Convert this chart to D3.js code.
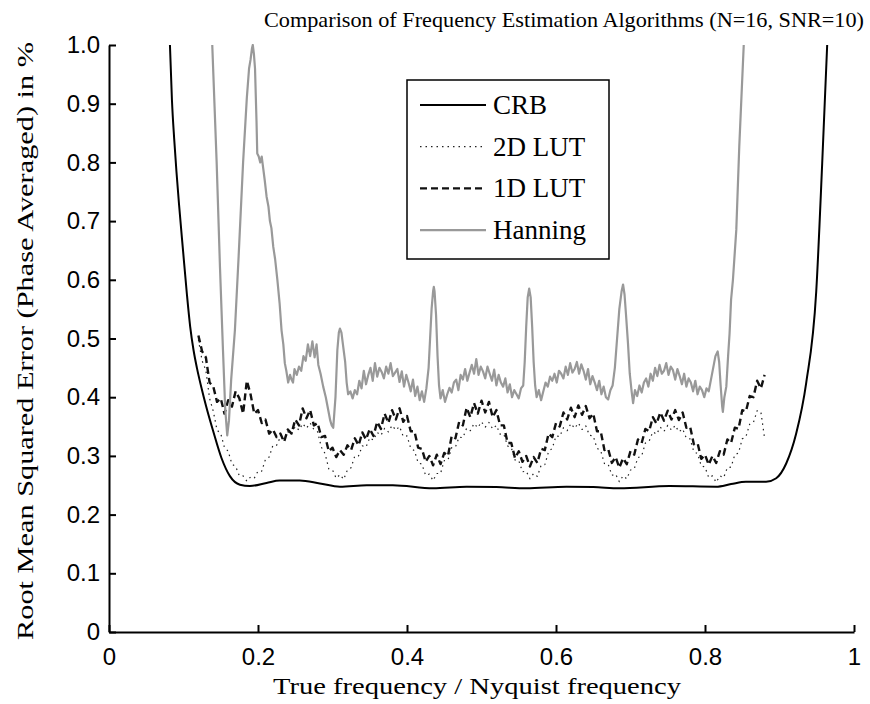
<!DOCTYPE html>
<html>
<head>
<meta charset="utf-8">
<script src="https://cdn.jsdelivr.net/npm/d3@7"></script>
<style>
  body { margin: 0; background: #fff; }
  svg { display: block; }
  .serif { font-family: "Liberation Serif", "Times New Roman", serif; fill: #000; }
</style>
</head>
<body>
<div class="canvas"></div>
<script>
const xTickValues = [0, 0.2, 0.4, 0.6, 0.8, 1];
const xTickLabels = ["0", "0.2", "0.4", "0.6", "0.8", "1"];
const yTickValues = [0, 0.1, 0.2, 0.3, 0.4, 0.5, 0.6, 0.7, 0.8, 0.9, 1];
const yTickLabels = ["0", "0.1", "0.2", "0.3", "0.4", "0.5", "0.6", "0.7", "0.8", "0.9", "1.0"];

const seriesNames = ["CRB", "2D LUT", "1D LUT", "Hanning"];

// Cramer-Rao bound
const crbFreq = [0.0818, 0.0845, 0.0875, 0.0905, 0.0939, 0.0995, 0.1046, 0.109, 0.1135, 0.118,
  0.1245, 0.1301, 0.1399, 0.1511, 0.1623, 0.1757, 0.189, 0.2115, 0.229, 0.256, 0.283, 0.31,
  0.346, 0.381, 0.435, 0.48, 0.52, 0.56, 0.614, 0.65, 0.685, 0.7525, 0.815, 0.835, 0.855,
  0.882, 0.8956, 0.909, 0.9224, 0.9358, 0.9493, 0.9573, 0.964];
const crbVal = [1.0, 0.906, 0.84, 0.785, 0.73, 0.648, 0.575, 0.52, 0.48, 0.45,
  0.414, 0.386, 0.342, 0.296, 0.2655, 0.251, 0.2487, 0.254, 0.258, 0.258, 0.253, 0.2475,
  0.25, 0.25, 0.2448, 0.2475, 0.247, 0.2448, 0.2475, 0.247, 0.2448, 0.2487, 0.2475, 0.252, 0.256,
  0.256, 0.262, 0.287, 0.338, 0.424, 0.58, 0.798, 1.0];

// LUT estimators, sampled every 0.005 from 0.12 to 0.88
const lutStart = 0.12;
const lutStep = 0.005;
const lut2d = [0.498, 0.462, 0.446, 0.398, 0.376, 0.344, 0.338, 0.314, 0.308, 0.286,
  0.282, 0.266, 0.266, 0.257, 0.264, 0.262, 0.274, 0.274, 0.294, 0.298,
  0.318, 0.318, 0.332, 0.328, 0.341, 0.337, 0.35, 0.344, 0.355, 0.347,
  0.356, 0.345, 0.341, 0.315, 0.304, 0.278, 0.276, 0.262, 0.268, 0.26,
  0.276, 0.28, 0.3, 0.3, 0.317, 0.315, 0.331, 0.327, 0.34, 0.335,
  0.347, 0.341, 0.352, 0.344, 0.35, 0.333, 0.334, 0.313, 0.309, 0.288,
  0.286, 0.267, 0.269, 0.258, 0.27, 0.27, 0.292, 0.293, 0.314, 0.315,
  0.332, 0.331, 0.347, 0.343, 0.355, 0.348, 0.358, 0.349, 0.357, 0.346,
  0.352, 0.337, 0.337, 0.317, 0.314, 0.293, 0.292, 0.273, 0.274, 0.261,
  0.27, 0.265, 0.284, 0.285, 0.307, 0.313, 0.334, 0.333, 0.348, 0.343,
  0.355, 0.347, 0.356, 0.345, 0.351, 0.335, 0.334, 0.313, 0.309, 0.287,
  0.286, 0.267, 0.269, 0.256, 0.266, 0.261, 0.276, 0.278, 0.297, 0.3,
  0.322, 0.325, 0.341, 0.337, 0.349, 0.342, 0.352, 0.344, 0.352, 0.341,
  0.346, 0.33, 0.329, 0.307, 0.304, 0.283, 0.281, 0.263, 0.266, 0.255,
  0.266, 0.263, 0.28, 0.281, 0.302, 0.305, 0.329, 0.333, 0.354, 0.357,
  0.377, 0.375, 0.33];
const lut1d = [0.505, 0.478, 0.468, 0.425, 0.418, 0.392, 0.398, 0.372, 0.395, 0.384,
  0.41, 0.398, 0.372, 0.428, 0.405, 0.372, 0.378, 0.356, 0.362, 0.338,
  0.345, 0.332, 0.338, 0.324, 0.345, 0.338, 0.362, 0.352, 0.381, 0.364,
  0.378, 0.352, 0.356, 0.332, 0.334, 0.308, 0.314, 0.298, 0.31, 0.302,
  0.318, 0.31, 0.33, 0.318, 0.34, 0.328, 0.346, 0.334, 0.358, 0.346,
  0.372, 0.356, 0.378, 0.362, 0.381, 0.358, 0.368, 0.342, 0.342, 0.314,
  0.312, 0.29, 0.3, 0.284, 0.302, 0.286, 0.305, 0.3, 0.334, 0.33,
  0.358, 0.352, 0.382, 0.366, 0.39, 0.372, 0.394, 0.374, 0.392, 0.366,
  0.378, 0.352, 0.352, 0.322, 0.322, 0.296, 0.308, 0.29, 0.3, 0.282,
  0.298, 0.288, 0.312, 0.31, 0.338, 0.332, 0.356, 0.35, 0.374, 0.362,
  0.382, 0.366, 0.386, 0.37, 0.385, 0.364, 0.372, 0.342, 0.342, 0.31,
  0.312, 0.288, 0.298, 0.28, 0.296, 0.286, 0.308, 0.302, 0.328, 0.322,
  0.346, 0.342, 0.366, 0.355, 0.374, 0.36, 0.377, 0.362, 0.378, 0.361,
  0.374, 0.348, 0.35, 0.32, 0.322, 0.295, 0.302, 0.285, 0.3, 0.288,
  0.308, 0.302, 0.328, 0.322, 0.348, 0.346, 0.378, 0.376, 0.402, 0.4,
  0.428, 0.415, 0.438];

// Hanning window estimator
const hanFreq = [0.1386, 0.1445, 0.149, 0.153, 0.156, 0.1587, 0.161, 0.164, 0.169, 0.174,
  0.18, 0.185, 0.188, 0.19, 0.192, 0.193, 0.1945, 0.196, 0.198, 0.199,
  0.201, 0.203, 0.205, 0.207, 0.209, 0.2115, 0.214, 0.216, 0.218, 0.2205,
  0.223, 0.226, 0.229, 0.2316, 0.234, 0.236, 0.238, 0.2405, 0.243, 0.245,
  0.247, 0.249, 0.252, 0.255, 0.258, 0.261, 0.264, 0.267, 0.27, 0.273,
  0.276, 0.2786, 0.281, 0.284, 0.2875, 0.291, 0.294, 0.297, 0.299, 0.301,
  0.304, 0.3065, 0.3085, 0.31, 0.312, 0.3145, 0.317, 0.319, 0.321, 0.324,
  0.327, 0.33, 0.333, 0.336, 0.339, 0.342, 0.345, 0.348, 0.351, 0.354,
  0.357, 0.36, 0.363, 0.366, 0.369, 0.372, 0.375, 0.378, 0.381, 0.384,
  0.387, 0.39, 0.393, 0.396, 0.399, 0.402, 0.405, 0.408, 0.411, 0.414,
  0.417, 0.42, 0.423, 0.426, 0.429, 0.431, 0.433, 0.435, 0.436, 0.437,
  0.439, 0.441, 0.443, 0.445, 0.448, 0.451, 0.454, 0.457, 0.46, 0.463,
  0.466, 0.469, 0.472, 0.475, 0.478, 0.481, 0.484, 0.487, 0.49, 0.493,
  0.496, 0.499, 0.502, 0.505, 0.508, 0.511, 0.514, 0.517, 0.52, 0.523,
  0.526, 0.529, 0.532, 0.535, 0.538, 0.541, 0.544, 0.547, 0.55, 0.553,
  0.556, 0.558, 0.56, 0.562, 0.564, 0.566, 0.568, 0.57, 0.572, 0.574,
  0.577, 0.58, 0.583, 0.586, 0.589, 0.592, 0.595, 0.598, 0.601, 0.604,
  0.607, 0.61, 0.613, 0.616, 0.619, 0.622, 0.625, 0.628, 0.631, 0.634,
  0.637, 0.64, 0.643, 0.646, 0.649, 0.652, 0.655, 0.658, 0.661, 0.664,
  0.667, 0.67, 0.673, 0.676, 0.679, 0.682, 0.685, 0.688, 0.69, 0.692,
  0.694, 0.6966, 0.699, 0.7015, 0.7035, 0.706, 0.709, 0.712, 0.715, 0.718,
  0.721, 0.724, 0.727, 0.73, 0.733, 0.736, 0.739, 0.742, 0.745, 0.748,
  0.751, 0.754, 0.757, 0.76, 0.763, 0.766, 0.769, 0.772, 0.775, 0.778,
  0.781, 0.784, 0.787, 0.79, 0.793, 0.796, 0.799, 0.802, 0.805, 0.808,
  0.811, 0.814, 0.817, 0.819, 0.821, 0.823, 0.824, 0.826, 0.8286, 0.831,
  0.833, 0.835, 0.8375, 0.842, 0.846, 0.852];
const hanVal = [1.0, 0.8, 0.62, 0.48, 0.38, 0.335, 0.36, 0.43, 0.514, 0.64,
  0.8, 0.91, 0.96, 0.975, 0.995, 1.0, 0.985, 0.96, 0.87, 0.815,
  0.81, 0.8, 0.81, 0.79, 0.77, 0.742, 0.725, 0.7, 0.688, 0.656,
  0.635, 0.6, 0.56, 0.514, 0.49, 0.458, 0.445, 0.425, 0.438, 0.43,
  0.425, 0.448, 0.438, 0.452, 0.445, 0.47, 0.462, 0.49, 0.47, 0.495,
  0.468, 0.49, 0.455, 0.44, 0.418, 0.4, 0.38, 0.36, 0.352, 0.348,
  0.4, 0.48, 0.51, 0.517, 0.51, 0.485, 0.46, 0.425, 0.405, 0.41,
  0.398, 0.412, 0.405, 0.428, 0.415, 0.445, 0.422, 0.438, 0.45, 0.428,
  0.458, 0.435, 0.45, 0.443, 0.432, 0.452, 0.44, 0.458, 0.436, 0.442,
  0.448, 0.426, 0.444, 0.418, 0.438, 0.425, 0.41, 0.43, 0.402, 0.418,
  0.395, 0.41, 0.392, 0.415, 0.45, 0.5, 0.55, 0.58, 0.588, 0.58,
  0.54, 0.47, 0.42, 0.398, 0.412, 0.392, 0.405, 0.416, 0.408, 0.425,
  0.43, 0.412, 0.438, 0.43, 0.448, 0.428, 0.442, 0.455, 0.44, 0.465,
  0.438, 0.452, 0.444, 0.432, 0.452, 0.44, 0.428, 0.447, 0.42, 0.438,
  0.425, 0.418, 0.432, 0.408, 0.422, 0.4, 0.412, 0.405, 0.398, 0.415,
  0.42, 0.46, 0.52, 0.57, 0.585, 0.57, 0.52, 0.46, 0.42, 0.4,
  0.412, 0.395, 0.41, 0.425, 0.418, 0.435, 0.428, 0.44, 0.425, 0.445,
  0.44, 0.432, 0.452, 0.438, 0.458, 0.442, 0.448, 0.46, 0.44, 0.456,
  0.445, 0.43, 0.448, 0.422, 0.436, 0.425, 0.412, 0.428, 0.405, 0.418,
  0.4, 0.396, 0.412, 0.42, 0.45, 0.5, 0.55, 0.58, 0.592, 0.575,
  0.54, 0.492, 0.44, 0.41, 0.39, 0.412, 0.402, 0.42, 0.408, 0.425,
  0.432, 0.418, 0.44, 0.428, 0.45, 0.436, 0.455, 0.44, 0.445, 0.458,
  0.438, 0.452, 0.446, 0.43, 0.448, 0.436, 0.422, 0.44, 0.418, 0.432,
  0.425, 0.41, 0.428, 0.405, 0.418, 0.412, 0.4, 0.415, 0.41, 0.43,
  0.45, 0.47, 0.478, 0.46, 0.42, 0.385, 0.375, 0.4, 0.418, 0.47,
  0.509, 0.566, 0.6, 0.685, 0.827, 1.0];

const width = 870;
const height = 704;
const margin = { top: 45, right: 16, bottom: 72, left: 109 };

const x = d3.scaleLinear().domain([0, 1]).range([margin.left, width - margin.right]);
const y = d3.scaleLinear().domain([0, 1]).range([height - margin.bottom, margin.top]);

const svg = d3.select(".canvas").append("svg")
  .attr("width", width)
  .attr("height", height);

svg.append("defs").append("clipPath")
  .attr("id", "plot-clip")
  .append("rect")
  .attr("x", x(0))
  .attr("y", y(1) - 1)
  .attr("width", x(1) - x(0))
  .attr("height", y(0) - y(1) + 1);

const line = d3.line()
  .x((d) => x(d[0]))
  .y((d) => y(d[1]));

const smoothLine = d3.line()
  .curve(d3.curveMonotoneX)
  .x((d) => x(d[0]))
  .y((d) => y(d[1]));

const crbData = crbFreq.map((f, i) => [f, crbVal[i]]);
const lut2dData = lut2d.map((v, i) => [lutStart + i * lutStep, v]);
const lut1dData = lut1d.map((v, i) => [lutStart + i * lutStep, v]);
const hanData = hanFreq.map((f, i) => [f, hanVal[i]]);

const styles = [
  { stroke: "#000", width: 2, dash: null },
  { stroke: "#222", width: 1.2, dash: "1.5,4" },
  { stroke: "#111", width: 2.4, dash: "7,4" },
  { stroke: "#999", width: 2.2, dash: null }
];

const curves = svg.append("g").attr("clip-path", "url(#plot-clip)");

[crbData, lut2dData, lut1dData, hanData].forEach((data, i) => {
  curves.append("path")
    .datum(data)
    .attr("fill", "none")
    .attr("stroke", styles[i].stroke)
    .attr("stroke-width", styles[i].width)
    .attr("stroke-dasharray", styles[i].dash)
    .attr("stroke-linejoin", "round")
    .attr("d", i === 0 ? smoothLine : line);
});

// axes (MATLAB style, ticks pointing inward)
const xAxis = d3.axisBottom(x)
  .tickValues(xTickValues)
  .tickFormat((d, i) => xTickLabels[i])
  .tickSizeInner(-7)
  .tickSizeOuter(0)
  .tickPadding(16);

const yAxis = d3.axisLeft(y)
  .tickValues(yTickValues)
  .tickFormat((d, i) => yTickLabels[i])
  .tickSizeInner(-7)
  .tickSizeOuter(0)
  .tickPadding(9);

const gx = svg.append("g")
  .attr("transform", `translate(0,${y(0)})`)
  .call(xAxis);
const gy = svg.append("g")
  .attr("transform", `translate(${x(0)},0)`)
  .call(yAxis);

[gx, gy].forEach((g) => {
  g.attr("font-family", "'Liberation Sans', Arial, sans-serif").attr("font-size", 24);
  g.select(".domain").attr("stroke", "#000").attr("stroke-width", 2);
  g.selectAll(".tick line").attr("stroke", "#000").attr("stroke-width", 2);
  g.selectAll(".tick text").attr("fill", "#000");
});

// texts
svg.append("text")
  .attr("class", "serif")
  .attr("x", 264)
  .attr("y", 27)
  .attr("font-size", 21)
  .attr("textLength", 600)
  .attr("lengthAdjust", "spacingAndGlyphs")
  .text("Comparison of Frequency Estimation Algorithms (N=16, SNR=10)");

svg.append("text")
  .attr("class", "serif")
  .attr("x", 273)
  .attr("y", 694)
  .attr("font-size", 23)
  .attr("textLength", 408)
  .attr("lengthAdjust", "spacingAndGlyphs")
  .text("True frequency / Nyquist frequency");

svg.append("text")
  .attr("class", "serif")
  .attr("transform", "translate(33,640) rotate(-90)")
  .attr("font-size", 23)
  .attr("textLength", 598)
  .attr("lengthAdjust", "spacingAndGlyphs")
  .text("Root Mean Squared Error (Phase Averaged) in %");

// legend
const legend = svg.append("g").attr("transform", "translate(407,80)");
legend.append("rect")
  .attr("width", 202)
  .attr("height", 179)
  .attr("fill", "#fff")
  .attr("stroke", "#000")
  .attr("stroke-width", 1.5);

seriesNames.forEach((name, i) => {
  const ly = 25 + i * 41.7;
  legend.append("line")
    .attr("x1", 13)
    .attr("x2", 79)
    .attr("y1", ly)
    .attr("y2", ly)
    .attr("stroke", styles[i].stroke)
    .attr("stroke-width", styles[i].width)
    .attr("stroke-dasharray", styles[i].dash);
  legend.append("text")
    .attr("class", "serif")
    .attr("x", 86)
    .attr("y", ly + 9)
    .attr("font-size", 27)
    .text(name);
});
</script>
</body>
</html>
